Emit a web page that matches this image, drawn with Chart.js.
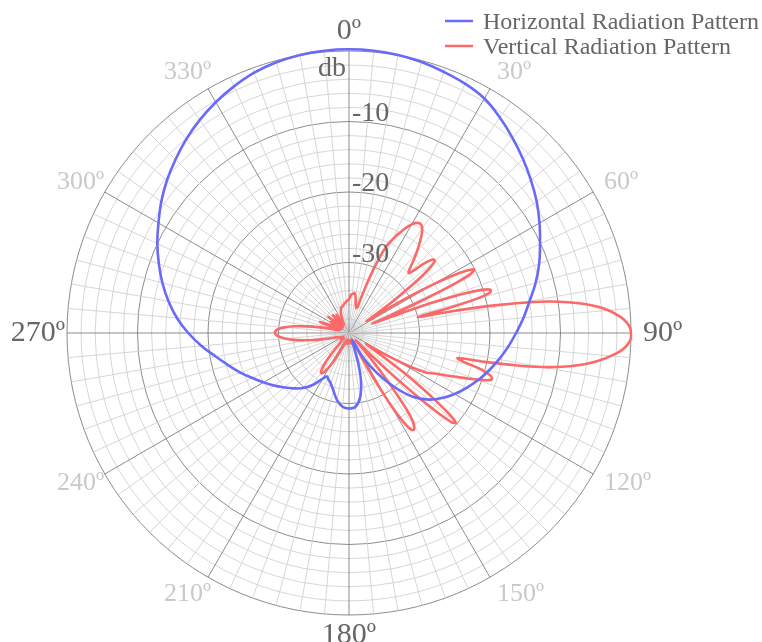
<!DOCTYPE html>
<html>
<head>
<meta charset="utf-8">
<script src="https://cdn.jsdelivr.net/npm/chart.js@4.4.1/dist/chart.umd.min.js"></script>
<style>
  html, body { margin: 0; padding: 0; background: #ffffff; }
  #wrap { width: 762px; height: 642px; position: relative; }
</style>
</head>
<body>
<div id="wrap"><canvas id="c" width="762" height="642"></canvas></div>
<script>
// ---------- categories (one per degree, clockwise from top) ----------
const angleCategories = Array.from({ length: 360 }, (_, i) => String(i));

// ---------- tick labels ----------
const angleTickLabels = ['0º', '30º', '60º', '90º', '120º', '150º', '180º', '210º', '240º', '270º', '300º', '330º'];
const radialTickValues = [0, -10, -20, -30];
const radialTickLabels = ['db', '-10', '-20', '-30'];

// ---------- series names ----------
const seriesNames = ['Horizontal Radiation Pattern', 'Vertical Radiation Pattern'];

// ---------- Horizontal radiation pattern (degree, dB) ----------
const hAngles = [0, 5, 10, 15, 20, 25, 30, 35, 40, 45, 50, 55, 60, 65, 70, 75, 80, 85, 90, 95,
  100, 105, 110, 115, 120, 125, 130, 135, 140, 145, 150, 155, 159, 163, 166, 170, 175, 180, 185, 190,
  195, 200, 204, 207, 210, 215, 220, 225, 230, 235, 240, 245, 250, 255, 260, 265, 270, 275, 280, 285,
  290, 295, 300, 305, 310, 315, 320, 325, 330, 335, 340, 345, 350, 355];
const hValues = [0.25, 0.2, 0.05, -0.2, -0.6, -1.0, -1.6, -2.7, -3.9, -5.1, -6.3, -7.5, -8.8, -10.1, -11.3, -12.6, -14.0, -15.15, -16.3, -17.35,
  -18.4, -19.45, -20.5, -21.6, -22.7, -23.9, -25.3, -27.2, -30.0, -33.0, -35.9, -38.8, -38.5, -35.5, -33.0, -30.8, -29.5, -29.3, -29.5, -30.3,
  -31.5, -32.4, -32.8, -33.1, -32.5, -31.0, -29.8, -28.9, -28.0, -27.0, -26.0, -24.9, -23.6, -22.3, -20.8, -19.0, -17.2, -15.5, -14.0, -12.6,
  -11.3, -10.0, -8.8, -7.5, -6.3, -5.2, -4.1, -3.1, -2.2, -1.4, -0.7, -0.25, 0.05, 0.2];

// ---------- Vertical radiation pattern (degree, dB) ----------
const vAngles = [0, 2, 4, 6, 8, 10, 12, 14, 16, 18, 19, 20, 21, 22, 23, 24, 25, 26, 27, 28, 29,
  30, 31, 32, 33, 34, 35, 36, 37, 38, 39, 40, 41, 42, 43, 44, 45, 46, 47, 48, 49,
  50, 51, 52, 53, 54, 55, 56, 57, 58, 59, 60, 61, 62, 63, 64, 65, 66, 67, 68, 69,
  70, 71, 72, 73, 74, 75, 76, 77, 78, 79, 80, 81, 82, 83, 84, 85, 86, 87, 88, 89,
  90, 91, 92, 93, 94, 95, 96, 97, 98, 99, 100, 101, 102, 103, 104, 105, 106, 107, 108, 109,
  110, 111, 112, 113, 114, 115, 116, 117, 118, 119, 120, 121, 122, 123, 124, 125, 126, 127, 128, 129,
  130, 131, 132, 133, 134, 135, 136, 137, 138, 139, 140, 141, 142, 143, 144, 145, 146, 147, 148, 149,
  150, 151, 152, 153, 154, 158, 164, 170, 176, 182, 188, 194, 200, 204, 206, 208, 210, 212, 214, 216,
  218, 220, 222, 226, 232, 238, 244, 250, 254, 257, 259, 261, 263, 265, 267, 269, 271, 273, 275, 277,
  279, 281, 283, 285, 287, 289, 291, 293, 296, 299, 301, 303, 306, 308, 310, 313, 316, 318, 320, 323,
  325, 327, 330, 333, 336, 339, 342, 345, 348, 351, 354, 357];
const vValues = [-35.2, -34.8, -34.5, -34.4, -34.3, -34.7, -35.4, -36.0, -36.3, -36.1, -34.5, -32.4, -30.4, -28.5, -27.0, -26.0, -25.3, -24.6, -24.0, -23.3, -22.7,
  -22.2, -21.8, -21.6, -21.5, -21.6, -21.9, -22.4, -23.0, -23.7, -24.4, -25.1, -25.8, -26.5, -27.2, -27.8, -28.0, -27.2, -25.8, -24.7, -24.1,
  -24.1, -25.0, -26.8, -29.3, -32.2, -35.0, -37.0, -36.3, -33.0, -29.5, -26.2, -23.4, -21.3, -20.1, -20.7, -23.5, -28.5, -33.5, -36.5, -33.5,
  -27.5, -23.0, -20.2, -19.0, -19.2, -21.3, -25.5, -30.0, -25.5, -20.0, -15.5, -11.5, -8.6, -6.3, -4.5, -3.1, -2.0, -1.1, -0.5, -0.1,
  0.0, 0.0, -0.3, -0.8, -1.6, -2.7, -3.9, -5.4, -7.2, -9.4, -12.2, -16.0, -20.3, -24.2, -23.4, -21.4, -19.8, -18.9, -18.7, -19.4,
  -20.7, -22.0, -23.3, -24.4, -25.4, -26.3, -27.0, -27.6, -28.8, -30.5, -32.5, -34.5, -36.2, -37.2, -36.2, -33.5, -30.2, -27.0, -24.2, -21.7,
  -20.2, -20.7, -23.3, -27.3, -31.8, -35.8, -38.0, -38.6, -38.2, -36.8, -34.6, -32.0, -29.2, -26.5, -24.7, -23.9, -23.5, -23.6, -24.4, -26.0,
  -28.5, -31.5, -34.5, -37.0, -38.5, -39.0, -38.4, -39.0, -38.5, -39.0, -38.4, -39.0, -38.6, -38.0, -37.0, -35.8, -34.6, -33.6, -33.1, -33.2,
  -34.2, -36.0, -38.0, -39.0, -38.5, -39.0, -38.5, -38.3, -37.3, -36.0, -34.8, -33.4, -32.0, -30.9, -30.1, -29.6, -29.5, -29.9, -30.8, -32.2,
  -34.0, -35.8, -37.3, -38.4, -38.6, -37.5, -35.6, -37.6, -38.8, -37.8, -37.0, -38.2, -38.5, -36.3, -38.3, -38.8, -37.5, -36.6, -38.2, -38.5,
  -36.9, -38.4, -38.6, -38.0, -37.3, -36.8, -36.3, -36.2, -36.0, -35.8, -35.6, -35.4];

// place each reading on its degree; other degrees stay empty (null)
function onDegrees(angles, values) {
  const out = new Array(angleCategories.length).fill(null);
  angles.forEach((a, i) => { out[a] = values[i]; });
  return out;
}

const BLUE = 'rgb(105,105,250)';
const RED = 'rgb(252,105,105)';
const MAJOR = 'rgba(120,120,120,0.85)';
const MINOR = 'rgba(210,210,210,0.9)';
const TEXT = '#666666';
const FAINT = '#c9c9c9';
const SERIF = '"Liberation Serif", "Times New Roman", serif';

const labelsPlugin = {
  id: 'polarLabels',
  afterDraw(chart) {
    const s = chart.scales.r;
    const ctx = chart.ctx;
    ctx.save();
    // radial value labels
    ctx.font = '28px ' + SERIF;
    ctx.fillStyle = TEXT;
    ctx.textBaseline = 'alphabetic';
    radialTickValues.forEach((v, i) => {
      const d = s.getDistanceFromCenterForValue(v);
      if (i === 0) {
        ctx.textAlign = 'right';
        ctx.fillText(radialTickLabels[i], s.xCenter - 3, s.yCenter - d + 25);
      } else {
        ctx.textAlign = 'left';
        ctx.fillText(radialTickLabels[i], s.xCenter + 3, s.yCenter - d - 1);
      }
    });
    // angle labels
    ctx.textBaseline = 'middle';
    angleTickLabels.forEach((txt, k) => {
      const deg = k * 30;
      const cardinal = deg % 90 === 0;
      ctx.font = (cardinal ? 30 : 26) + 'px ' + SERIF;
      ctx.fillStyle = cardinal ? TEXT : FAINT;
      const p = s.getPointPosition(deg, s.drawingArea + 10);
      const rad = deg * Math.PI / 180;
      const h = cardinal ? 20 : 18;
      let x = p.x, y = p.y - Math.cos(rad) * h / 2;
      if (deg === 0 || deg === 180) {
        ctx.textAlign = 'center';
      } else if (deg < 180) {
        ctx.textAlign = 'left';
        x += 2;
      } else {
        ctx.textAlign = 'right';
        x += 8;
      }
      ctx.fillText(txt, x, y);
    });
    // legend
    const colors = [BLUE, RED];
    ctx.font = '24px ' + SERIF;
    ctx.textAlign = 'left';
    ctx.textBaseline = 'alphabetic';
    seriesNames.forEach((name, i) => {
      const y = 21 + i * 25;
      ctx.strokeStyle = colors[i];
      ctx.lineWidth = 2.5;
      ctx.beginPath();
      ctx.moveTo(445, y);
      ctx.lineTo(473, y);
      ctx.stroke();
      ctx.fillStyle = TEXT;
      ctx.fillText(name, 483, y + 8);
    });
    ctx.restore();
  }
};

new Chart(document.getElementById('c'), {
  type: 'radar',
  data: {
    labels: angleCategories,
    datasets: [
      {
        label: seriesNames[0],
        data: onDegrees(hAngles, hValues),
        borderColor: BLUE,
        borderWidth: 2.6,
        pointRadius: 0,
        fill: false,
        spanGaps: true,
        tension: 0.4,
        clip: false
      },
      {
        label: seriesNames[1],
        data: onDegrees(vAngles, vValues),
        borderColor: RED,
        borderWidth: 2.6,
        pointRadius: 0,
        fill: false,
        spanGaps: true,
        tension: 0.3,
        clip: false
      }
    ]
  },
  options: {
    responsive: false,
    animation: false,
    layout: { padding: { left: 67, right: 131, top: 51, bottom: 27 } },
    plugins: { legend: { display: false }, tooltip: { enabled: false } },
    scales: {
      r: {
        min: -40,
        max: 0,
        beginAtZero: false,
        ticks: { stepSize: 2, display: false },
        pointLabels: { display: false },
        grid: {
          circular: true,
          lineWidth: 1,
          color: (c) => (c.tick && c.tick.value % 10 === 0) ? MAJOR : MINOR
        },
        angleLines: {
          lineWidth: (c) => (c.index % 5 === 0 ? 1 : 0),
          color: (c) => (c.index % 30 === 0 ? MAJOR : MINOR)
        }
      }
    }
  },
  plugins: [labelsPlugin]
});
</script>
</body>
</html>
